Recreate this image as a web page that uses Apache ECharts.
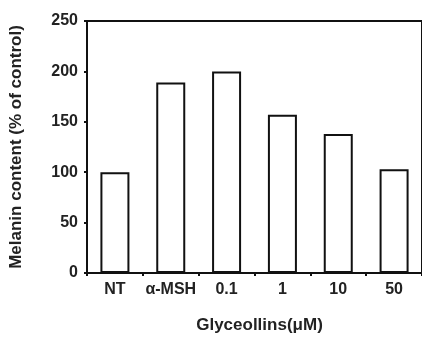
<!DOCTYPE html>
<html>
<head>
<meta charset="utf-8">
<script src="https://cdn.jsdelivr.net/npm/echarts@6/dist/echarts.min.js"></script>
<style>
  html, body { margin: 0; padding: 0; background: #fff; }
  #chart { width: 422px; height: 342px; }
</style>
</head>
<body>
<div id="chart"></div>
<script>
// Melanin content per treatment group
const categories = ['NT', 'α-MSH', '0.1', '1', '10', '50'];
const melanin = [100, 189, 200, 157, 138, 103];
const yTicks = [0, 50, 100, 150, 200, 250];

const chart = echarts.init(document.getElementById('chart'));
const font = 'Liberation Sans, Arial, sans-serif';

chart.setOption({
  animation: false,
  backgroundColor: '#fff',
  grid: {
    left: 87, top: 21, right: -8, bottom: 69,
    show: true, borderColor: '#111', borderWidth: 2, backgroundColor: 'transparent'
  },
  xAxis: {
    type: 'category',
    data: categories,
    name: 'Glyceollins(μM)',
    nameLocation: 'middle',
    nameGap: 44,
    nameTextStyle: { fontFamily: font, fontWeight: 'bold', fontSize: 17, color: '#222', padding: [0, 0, 0, 10] },
    axisLine: { lineStyle: { color: '#111', width: 2 } },
    axisTick: { show: true, alignWithLabel: false, length: 3, lineStyle: { color: '#111', width: 2 } },
    axisLabel: {
      fontFamily: font, fontWeight: 'bold', fontSize: 16, color: '#222', margin: 9,
      interval: 0
    }
  },
  yAxis: {
    type: 'value',
    min: 0, max: 250, interval: 50,
    name: 'Melanin content (% of control)',
    nameLocation: 'middle',
    nameGap: 62,
    nameTextStyle: { fontFamily: font, fontWeight: 'bold', fontSize: 17, color: '#222' },
    axisLine: { show: true, lineStyle: { color: '#111', width: 2 } },
    axisTick: { show: true, length: 3, lineStyle: { color: '#111', width: 2 } },
    splitLine: { show: false },
    axisLabel: {
      fontFamily: font, fontWeight: 'bold', fontSize: 16, color: '#222', margin: 9,
      formatter: v => yTicks.includes(v) ? String(v) : ''
    }
  },
  series: [{
    type: 'bar',
    data: melanin,
    barWidth: 29,
    itemStyle: { color: '#fff', borderColor: '#111', borderWidth: 2 }
  }]
});
</script>
</body>
</html>
